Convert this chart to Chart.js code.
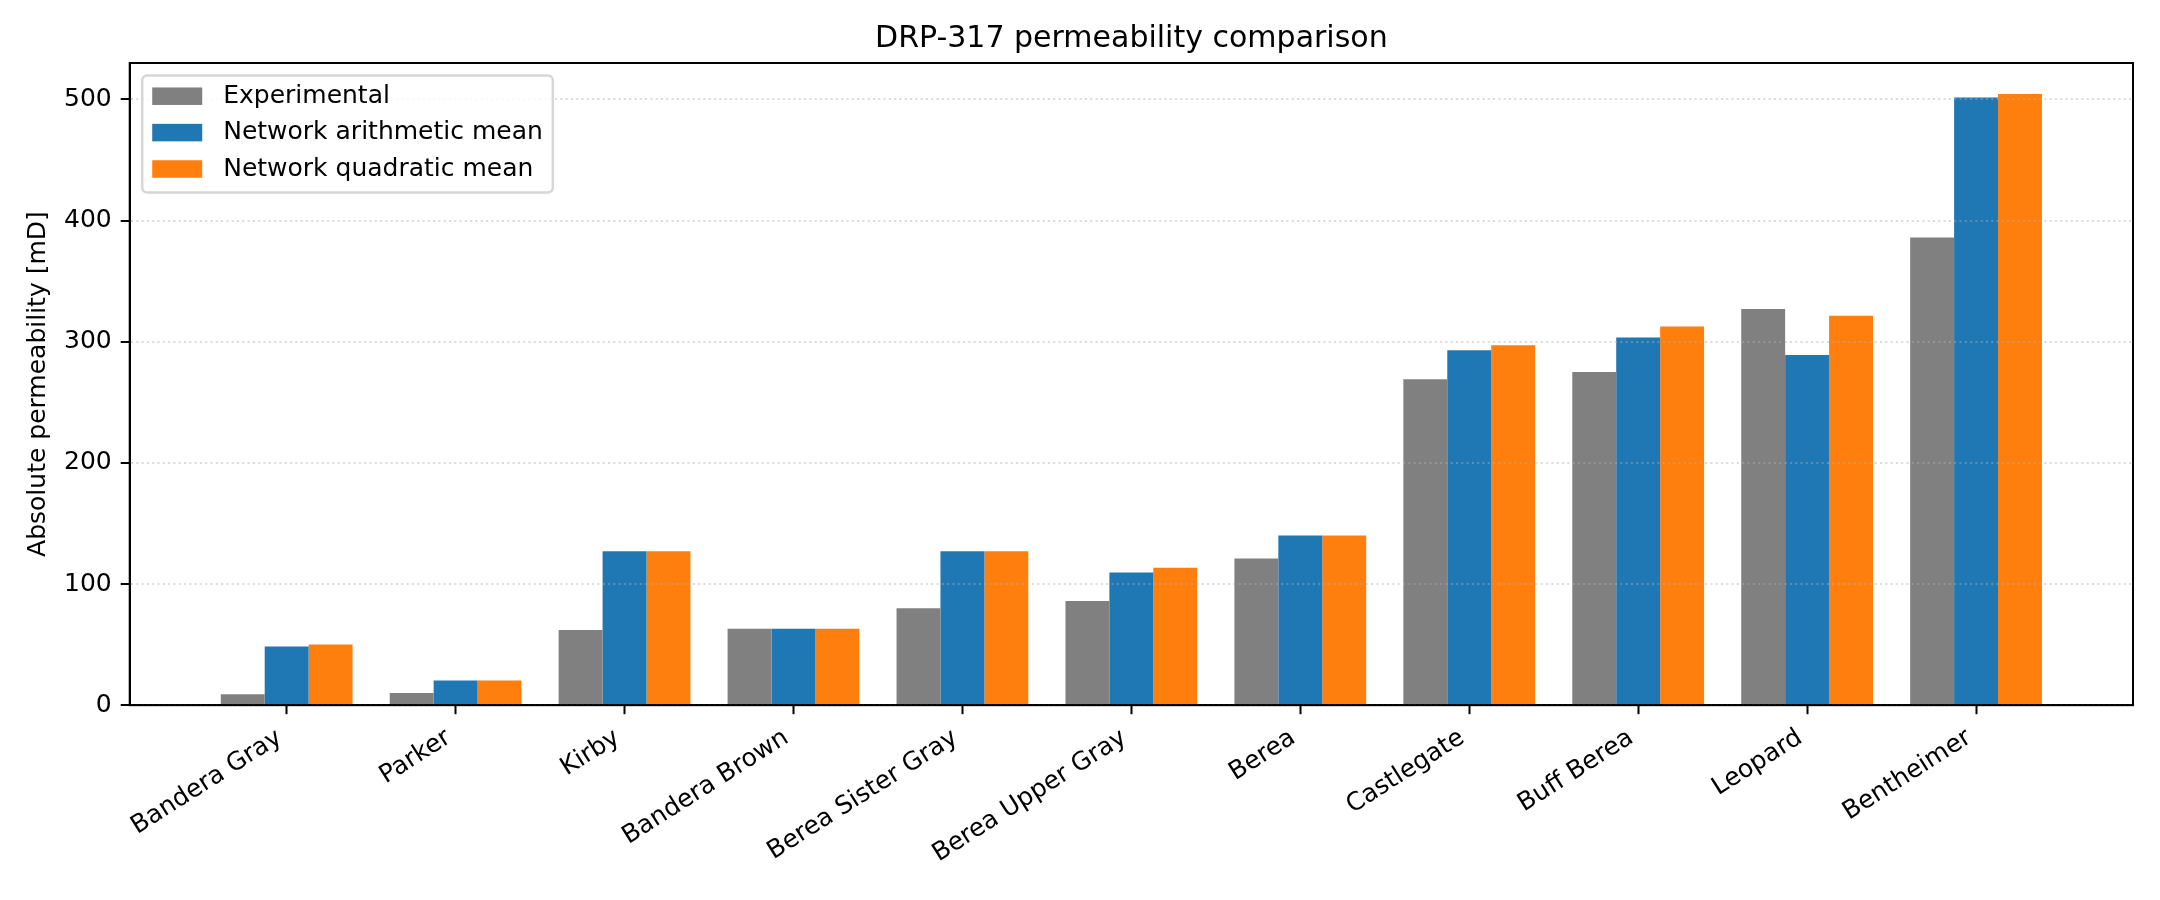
<!DOCTYPE html>
<html>
<head>
<meta charset="utf-8">
<title>DRP-317 permeability comparison</title>
<script src="https://cdn.jsdelivr.net/npm/chart.js@4.4.1/dist/chart.umd.min.js"></script>
<style>
  html, body { margin: 0; padding: 0; background: #fff; }
  #wrap { width: 2160px; height: 900px; position: relative; }
</style>
</head>
<body>
<div id="wrap"><canvas id="permChart"></canvas></div>
<script>
const samples = ["Bandera Gray", "Parker", "Kirby", "Bandera Brown", "Berea Sister Gray",
  "Berea Upper Gray", "Berea", "Castlegate", "Buff Berea", "Leopard", "Bentheimer"];
const experimental = [9, 10, 62, 63, 80, 86, 121, 269, 275, 327, 386];
const arithmeticMean = [48.5, 20.4, 127, 63, 127, 109.5, 140, 293, 303.5, 289, 501.5];
const quadraticMean = [50, 20.4, 127, 63, 127, 113.5, 140, 297, 312.5, 321.5, 504.5];
const yTicks = [0, 100, 200, 300, 400, 500];

const FONT = "DejaVu Sans";
Chart.defaults.font.family = FONT;
Chart.defaults.color = "#000";

function toPoints(values) {
  return values.map((v, i) => ({ x: i, y: v }));
}

// matplotlib style frame: full box round the plot area
const axesFrame = {
  id: "axesFrame",
  afterDraw(chart) {
    const { ctx, chartArea } = chart;
    ctx.save();
    ctx.strokeStyle = "#000";
    ctx.lineWidth = 2;
    ctx.strokeRect(chartArea.left, chartArea.top,
      chartArea.right - chartArea.left, chartArea.bottom - chartArea.top);
    ctx.restore();
  }
};

// legend in the upper left corner inside the axes, with a light frame
const legendBox = {
  id: "legendBox",
  afterDraw(chart) {
    const { ctx, chartArea } = chart;
    const sets = chart.data.datasets;
    ctx.save();
    ctx.font = "25px '" + FONT + "'";
    const textW = Math.max(...sets.map((d) => ctx.measureText(d.label).width));
    const x0 = chartArea.left + 12.5;
    const y0 = chartArea.top + 12.5;
    const rowH = 36.4;
    const w = 10 + 50 + 21 + textW + 10;
    const h = 117;

    ctx.beginPath();
    ctx.roundRect(x0, y0, w, h, 5);
    ctx.fillStyle = "rgba(255,255,255,0.8)";
    ctx.fill();
    ctx.lineWidth = 2.5;
    ctx.strokeStyle = "rgba(204,204,204,0.8)";
    ctx.stroke();

    ctx.textBaseline = "middle";
    ctx.textAlign = "left";
    sets.forEach((d, i) => {
      const cy = y0 + 20.7 + i * rowH;
      ctx.fillStyle = d.backgroundColor;
      ctx.fillRect(x0 + 10, cy - 8.75, 50, 17.5);
      ctx.fillStyle = "#000";
      ctx.fillText(d.label, x0 + 81, cy);
    });
    ctx.restore();
  }
};

const data = {
  datasets: [
    {
      label: "Experimental",
      data: toPoints(experimental),
      backgroundColor: "#808080",
    },
    {
      label: "Network arithmetic mean",
      data: toPoints(arithmeticMean),
      backgroundColor: "#1f77b4",
    },
    {
      label: "Network quadratic mean",
      data: toPoints(quadraticMean),
      backgroundColor: "#ff7f0e",
    },
  ],
};

const config = {
  type: "bar",
  data: data,
  options: {
    responsive: true,
    maintainAspectRatio: false,
    animation: false,
    categoryPercentage: 0.78,
    barPercentage: 1.0,
    borderWidth: 0,
    layout: { padding: { left: 0, right: 27, top: 0, bottom: 22 } },
    plugins: {
      legend: { display: false },
      tooltip: { enabled: false },
      title: {
        display: true,
        text: "DRP-317 permeability comparison",
        fullSize: false,
        color: "#000",
        font: { size: 30, weight: "normal" },
        padding: { top: 21, bottom: 6 },
      },
    },
    scales: {
      x: {
        type: "linear",
        min: -0.929,
        max: 10.929,
        offset: false,
        afterBuildTicks: (scale) => {
          scale.ticks = samples.map((_, i) => ({ value: i }));
        },
        ticks: {
          autoSkip: false,
          minRotation: 32.5,
          maxRotation: 32.5,
          padding: 9,
          labelOffset: -7,
          font: { size: 25 },
          callback: (value) => samples[value],
        },
        grid: {
          offset: false,
          drawOnChartArea: false,
          drawTicks: true,
          tickLength: 9,
          tickWidth: 2,
          tickColor: "#000",
        },
        border: { display: true, color: "#000", width: 2 },
      },
      y: {
        min: 0,
        max: 530,
        afterBuildTicks: (scale) => {
          scale.ticks = yTicks.map((v) => ({ value: v }));
        },
        ticks: {
          padding: 9,
          font: { size: 25 },
        },
        grid: {
          z: 1,
          offset: false,
          color: "rgba(176,176,176,0.45)",
          lineWidth: 2,
          drawTicks: true,
          tickLength: 9,
          tickWidth: 2,
          tickColor: "#000",
        },
        border: { display: true, z: 2, color: "#000", width: 2, dash: [2, 3.3] },
        title: {
          display: true,
          text: "Absolute permeability [mD]",
          font: { size: 25 },
          padding: { top: 23, bottom: 2 },
        },
      },
    },
  },
  plugins: [axesFrame, legendBox],
};

const permChart = new Chart(document.getElementById("permChart"), config);
</script>
</body>
</html>
